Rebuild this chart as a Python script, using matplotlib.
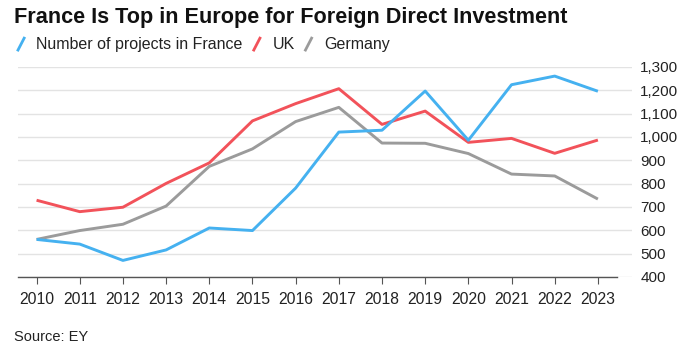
import matplotlib.pyplot as plt
from matplotlib.lines import Line2D

years = list(range(2010, 2024))
france = [561, 541, 471, 516, 610, 599, 781, 1021, 1029, 1197, 986, 1224, 1261, 1196]
uk = [729, 680, 699, 801, 889, 1069, 1143, 1207, 1054, 1111, 977, 994, 930, 987]
germany = [561, 599, 626, 704, 874, 949, 1066, 1127, 974, 973, 929, 841, 833, 734]
yticks = list(range(400, 1301, 100))

blue = '#45b1f0'
red = '#f2525a'
grey = '#9b9b9b'

plt.rcParams['font.family'] = ['Liberation Sans', 'DejaVu Sans']

fig = plt.figure(figsize=(6.84, 3.5), dpi=100)
ax = fig.add_axes([18 / 684, 0.2086, 614 / 684, 0.6])

ax.plot(years, germany, c=grey, lw=2.1, solid_capstyle='butt', zorder=3)
ax.plot(years, uk, c=red, lw=2.1, solid_capstyle='butt', zorder=4)
ax.plot(years, france, c=blue, lw=2.1, solid_capstyle='butt', zorder=5)

ax.set_xlim(2009.57, 2023.79)
ax.set_ylim(400, 1300)
ax.set_xticks(years)
ax.set_xticklabels([str(y) for y in years])
ax.set_yticks(yticks)
ax.set_yticklabels(['{:,}'.format(v) for v in yticks])
ax.yaxis.tick_right()
ax.grid(axis='y', color='#e3e3e3', lw=1)
ax.set_axisbelow(True)
for s in ['top', 'left', 'right']:
    ax.spines[s].set_visible(False)
ax.spines['bottom'].set_color('#555555')
ax.spines['bottom'].set_linewidth(1)
ax.spines['bottom'].set_bounds(2009.57, 2023.44)
ax.tick_params(axis='y', length=0, pad=6, labelsize=11, labelcolor='#222222')
ax.tick_params(axis='x', length=5, width=0.8, color='#555555', pad=6,
               labelsize=11.3, labelcolor='#222222')

fig.text(0.02, 0.95, 'France Is Top in Europe for Foreign Direct Investment',
         fontsize=15.6, fontweight='bold', va='center', ha='left', color='#111111')

# legend drawn by hand with slash markers
x0 = 18 / 684
for label, col in [('Number of projects in France', blue), ('UK', red), ('Germany', grey)]:
    fig.add_artist(Line2D([x0, x0 + 0.009], [0.857, 0.891], color=col, lw=2,
                          transform=fig.transFigure))
    t = fig.text(x0 + 0.027, 0.873, label, fontsize=11.5, va='center', ha='left', color='#222222')
    fig.canvas.draw()
    bb = t.get_window_extent().transformed(fig.transFigure.inverted())
    x0 = bb.x1 + 0.016

fig.text(0.02, 0.037, 'Source: EY', fontsize=10.5, va='center', ha='left', color='#222222')

plt.savefig('out.png')
